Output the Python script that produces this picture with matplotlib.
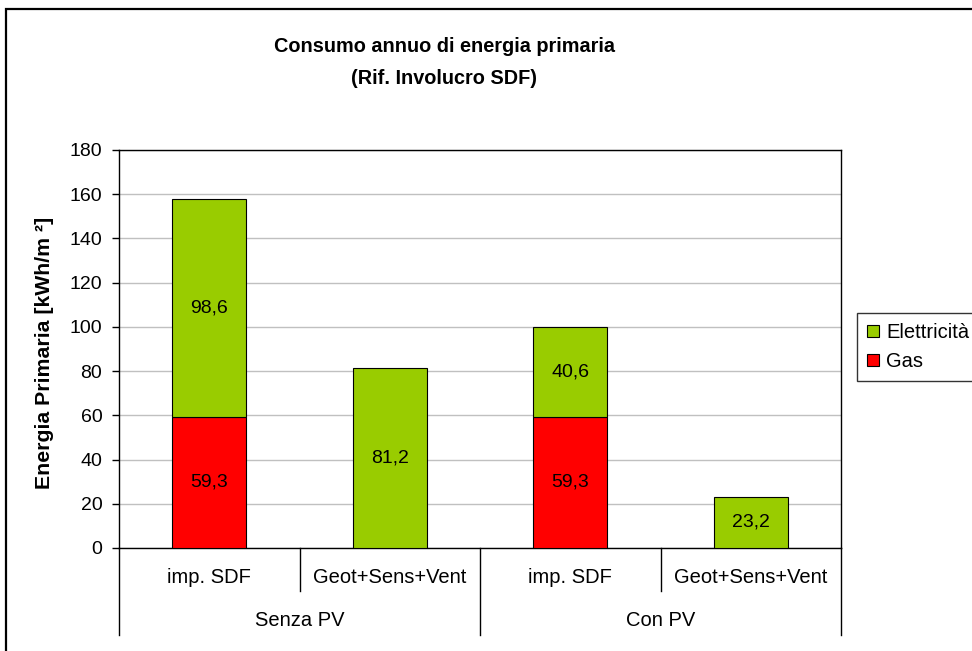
import numpy as np
import matplotlib
matplotlib.use("Agg")
import matplotlib.pyplot as plt
from matplotlib.patches import Rectangle

plt.rcParams['font.family'] = ['Liberation Sans', 'DejaVu Sans']

# --- dati ---
categorie = ["imp. SDF", "Geot+Sens+Vent", "imp. SDF", "Geot+Sens+Vent"]
gruppi = ["Senza PV", "Con PV"]
gas = [59.3, 0.0, 59.3, 0.0]
elettricita = [98.6, 81.2, 40.6, 23.2]
etichette_gas = ["59,3", "", "59,3", ""]
etichette_el = ["98,6", "81,2", "40,6", "23,2"]

VERDE = "#99CC00"
ROSSO = "#FF0000"
FS = 14

fig = plt.figure(figsize=(9.72, 6.51), dpi=100)
ax = fig.add_axes([119/972, 1 - 548/651, 722/972, 398/651])

x = np.arange(len(categorie))
w = 0.41
ax.bar(x, gas, w, color=ROSSO, edgecolor="black", linewidth=0.8, label="Gas", zorder=3)
ax.bar(x, elettricita, w, bottom=gas, color=VERDE, edgecolor="black", linewidth=0.8,
       label="Elettricità", zorder=3)

# etichette dati al centro dei segmenti
for i in range(len(x)):
    if gas[i] > 0:
        ax.text(x[i], gas[i] / 2, etichette_gas[i], ha="center", va="center", fontsize=FS)
    ax.text(x[i], gas[i] + elettricita[i] / 2, etichette_el[i], ha="center", va="center", fontsize=FS)

ax.set_xlim(-0.5, len(x) - 0.5)
ax.set_ylim(0, 180)
ax.set_yticks(np.arange(0, 181, 20))
ax.tick_params(axis="y", labelsize=FS, length=5, width=1, direction="out", pad=7)
ax.set_xticks([])
ax.yaxis.grid(True, color="#c0c0c0", linewidth=1, zorder=0)
for s in ax.spines.values():
    s.set_linewidth(1)
    s.set_color("black")

ax.set_ylabel("Energia Primaria [kWh/m ²]", fontsize=15.3, fontweight="bold")
ax.yaxis.set_label_coords(-0.09, 0.49)

# asse categorie a due livelli
tr = ax.get_xaxis_transform()
for xs in [0.5, 2.5]:
    ax.plot([xs, xs], [0, -0.108], transform=tr, color="black", lw=1, clip_on=False)
for xs in [-0.5, 1.5, 3.5]:
    ax.plot([xs, xs], [0, -0.219], transform=tr, color="black", lw=1, clip_on=False)
for i, c in enumerate(categorie):
    ax.text(x[i], -0.075, c, transform=tr, ha="center", va="center", fontsize=14.5)
for j, g in enumerate(gruppi):
    ax.text(0.5 + 2 * j, -0.181, g, transform=tr, ha="center", va="center", fontsize=14.5)

fig.text(444/972, 1 - 46/651, "Consumo annuo di energia primaria",
         ha="center", va="center", fontsize=14.3, fontweight="bold")
fig.text(444/972, 1 - 78/651, "(Rif. Involucro SDF)",
         ha="center", va="center", fontsize=14.3, fontweight="bold")

# legenda
h, l = ax.get_legend_handles_labels()
leg = fig.legend(h[::-1], l[::-1], loc="upper left", bbox_to_anchor=(857/972, 1 - 313/651),
                 fontsize=14.5, frameon=True, fancybox=False, handlelength=0.6, handleheight=0.6,
                 handletextpad=0.35, borderpad=0.5, labelspacing=0.5, borderaxespad=0)
leg.get_frame().set_edgecolor("black")
leg.get_frame().set_linewidth(1)

# bordo esterno del grafico (tagliato a destra e in basso)
fig.patches.append(Rectangle((6/972, -0.1), 1.2, 1 - 9/651 + 0.1, transform=fig.transFigure,
                             fill=False, edgecolor="black", linewidth=1.6))

fig.savefig("out.png", dpi=100)
